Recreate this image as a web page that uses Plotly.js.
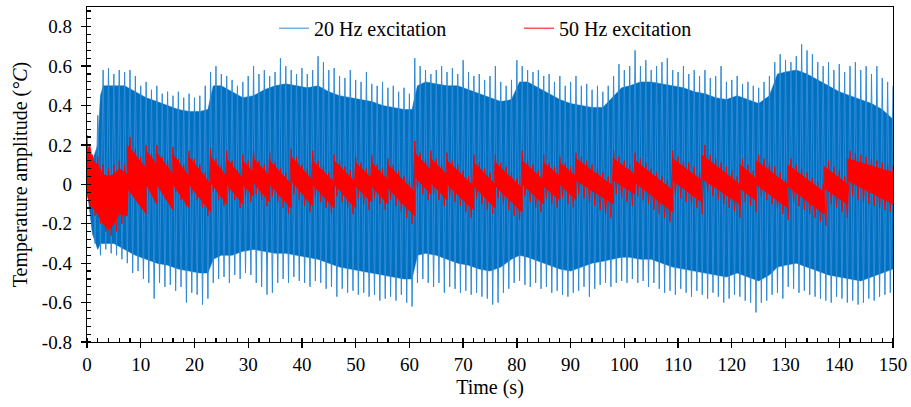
<!DOCTYPE html>
<html>
<head>
<meta charset="utf-8">
<script src="https://cdn.plot.ly/plotly-3.0.1.min.js"></script>
<style>html,body{margin:0;padding:0;background:#fff;}#chart{width:911px;height:407px;}</style>
</head>
<body>
<div id="chart"></div>
<script>
// ---------- DATA ----------
// Series names
const seriesNames = ["20 Hz excitation", "50 Hz excitation"];

// 20 Hz excitation: dense band edges (°C) at vertex times (s)
const blueBandT = [0,1,2,2.5,3,5,7,9,11,13,15,17,19,21,22.5,23.5,25,27,29,31,33,35,37,39,41,43,45,47,49,51,53,55,57,59,60.5,61.5,63,65,67,69,71,73,75,77,79,80.5,82,84,86,88,90,92,94,96,98,99.5,101,103,105,107,109,111,113,115,117,119,121,123,125,127,128.5,130,132,134,136,138,140,142,144,146,148,150];
const blueBandTop = [0.02,0.12,0.2,0.45,0.5,0.5,0.5,0.47,0.44,0.42,0.4,0.38,0.37,0.37,0.38,0.5,0.5,0.47,0.44,0.45,0.48,0.5,0.51,0.5,0.49,0.5,0.47,0.45,0.44,0.43,0.42,0.4,0.39,0.38,0.38,0.5,0.52,0.51,0.5,0.5,0.48,0.46,0.44,0.42,0.43,0.52,0.52,0.49,0.46,0.43,0.41,0.4,0.39,0.39,0.45,0.49,0.5,0.52,0.52,0.51,0.5,0.49,0.47,0.46,0.44,0.43,0.45,0.43,0.41,0.45,0.56,0.57,0.58,0.56,0.53,0.5,0.47,0.45,0.43,0.41,0.38,0.33];
const blueBandBot = [-0.02,-0.25,-0.33,-0.3,-0.3,-0.3,-0.33,-0.36,-0.38,-0.4,-0.41,-0.43,-0.44,-0.45,-0.45,-0.38,-0.36,-0.36,-0.34,-0.33,-0.34,-0.35,-0.35,-0.36,-0.37,-0.38,-0.4,-0.42,-0.43,-0.44,-0.45,-0.46,-0.47,-0.48,-0.48,-0.36,-0.35,-0.36,-0.38,-0.4,-0.41,-0.43,-0.44,-0.42,-0.38,-0.36,-0.37,-0.39,-0.41,-0.43,-0.44,-0.42,-0.4,-0.39,-0.38,-0.37,-0.37,-0.38,-0.38,-0.4,-0.42,-0.43,-0.44,-0.45,-0.46,-0.47,-0.45,-0.47,-0.49,-0.46,-0.42,-0.41,-0.4,-0.42,-0.44,-0.46,-0.47,-0.48,-0.49,-0.47,-0.45,-0.43];

// 20 Hz excitation: spike extremes for each second 0..150 (°C)
const bluePeak = [0.05,0.15,0.35,0.58,0.59,0.56,0.58,0.57,0.58,0.55,0.5,0.52,0.48,0.5,0.46,0.47,0.45,0.47,0.44,0.46,0.44,0.45,0.5,0.57,0.6,0.56,0.55,0.53,0.5,0.52,0.55,0.6,0.56,0.58,0.55,0.57,0.64,0.6,0.58,0.56,0.59,0.56,0.58,0.65,0.62,0.58,0.59,0.55,0.54,0.58,0.53,0.52,0.57,0.51,0.5,0.52,0.49,0.5,0.47,0.49,0.46,0.64,0.6,0.58,0.56,0.58,0.6,0.57,0.59,0.56,0.63,0.57,0.55,0.56,0.53,0.55,0.6,0.52,0.5,0.53,0.63,0.6,0.58,0.57,0.58,0.55,0.56,0.52,0.55,0.5,0.52,0.55,0.5,0.51,0.48,0.5,0.47,0.5,0.55,0.61,0.58,0.6,0.68,0.6,0.63,0.58,0.6,0.62,0.64,0.58,0.57,0.6,0.56,0.58,0.55,0.58,0.54,0.55,0.6,0.52,0.53,0.55,0.51,0.52,0.5,0.49,0.52,0.55,0.62,0.66,0.63,0.62,0.65,0.71,0.68,0.66,0.62,0.6,0.62,0.58,0.61,0.57,0.6,0.62,0.58,0.6,0.56,0.6,0.54,0.52,0.5];
const blueTrough = [-0.05,-0.3,-0.36,-0.33,-0.35,-0.36,-0.38,-0.4,-0.45,-0.44,-0.48,-0.5,-0.58,-0.5,-0.52,-0.51,-0.54,-0.52,-0.6,-0.55,-0.56,-0.61,-0.58,-0.5,-0.48,-0.47,-0.5,-0.46,-0.48,-0.45,-0.46,-0.5,-0.52,-0.56,-0.55,-0.5,-0.48,-0.5,-0.47,-0.49,-0.5,-0.52,-0.49,-0.5,-0.53,-0.52,-0.57,-0.53,-0.55,-0.54,-0.56,-0.55,-0.57,-0.56,-0.59,-0.58,-0.57,-0.59,-0.56,-0.6,-0.62,-0.5,-0.48,-0.5,-0.52,-0.5,-0.55,-0.52,-0.53,-0.55,-0.54,-0.56,-0.55,-0.57,-0.58,-0.61,-0.6,-0.55,-0.53,-0.5,-0.49,-0.51,-0.52,-0.5,-0.53,-0.52,-0.55,-0.54,-0.56,-0.57,-0.55,-0.54,-0.52,-0.57,-0.53,-0.51,-0.5,-0.52,-0.5,-0.49,-0.5,-0.48,-0.5,-0.49,-0.52,-0.5,-0.53,-0.55,-0.54,-0.56,-0.53,-0.55,-0.57,-0.54,-0.56,-0.58,-0.55,-0.57,-0.6,-0.58,-0.56,-0.57,-0.59,-0.6,-0.65,-0.6,-0.59,-0.56,-0.55,-0.58,-0.52,-0.53,-0.55,-0.54,-0.56,-0.57,-0.58,-0.59,-0.6,-0.57,-0.58,-0.6,-0.59,-0.61,-0.6,-0.58,-0.59,-0.57,-0.56,-0.55,-0.52];

// 50 Hz excitation: sawtooth band vertices (time s, top °C, bottom °C)
const redT   = [0,0.5,1,2,3,4,5,6,7.5, 7.5,11, 11,13, 13,16, 16,19, 19,23, 23,26, 26,29, 29,31, 31,34, 34,38, 38,42, 42,46, 46,50, 50,53, 53,56, 56,61, 61,64, 64,67, 67,72, 72,76, 76,81, 81,85, 85,88, 88,91, 91,98, 98,102, 102,109, 109,114.4, 114.4,121.5, 121.5,124.5, 124.5,130.4, 130.4,137.2, 137.2,141.5, 141.5,150];
const redTop = [0.17,0.2,0.12,0.1,0.05,0.04,0.05,0.08,0.05, 0.2,0.08, 0.17,0.1, 0.16,0.05, 0.15,0.04, 0.14,0.0, 0.14,0.04, 0.13,0.03, 0.12,0.06, 0.13,0.04, 0.12,0.0, 0.14,0.02, 0.12,0.01, 0.12,0.01, 0.11,0.03, 0.11,0.02, 0.1,-0.04, 0.16,0.07, 0.13,0.05, 0.12,-0.01, 0.11,0.0, 0.11,-0.02, 0.12,0.02, 0.11,0.04, 0.11,0.04, 0.13,-0.01, 0.13,0.05, 0.12,-0.03, 0.13,0.02, 0.15,0.0, 0.1,0.03, 0.12,0.0, 0.1,-0.04, 0.09,0.0, 0.13,0.06];
const redBot = [-0.05,-0.1,-0.12,-0.15,-0.2,-0.23,-0.2,-0.15,-0.16, -0.02,-0.15, 0.0,-0.1, 0.0,-0.13, 0.0,-0.12, 0.0,-0.14, 0.01,-0.1, 0.0,-0.1, 0.0,-0.06, 0.01,-0.09, 0.0,-0.12, 0.02,-0.11, 0.0,-0.12, 0.0,-0.12, -0.01,-0.09, -0.01,-0.1, -0.02,-0.16, 0.04,-0.05, 0.01,-0.08, 0.0,-0.13, -0.01,-0.12, -0.01,-0.14, 0.0,-0.1, -0.01,-0.08, 0.0,-0.08, 0.02,-0.1, 0.02,-0.05, 0.01,-0.14, 0.02,-0.09, 0.03,-0.1, -0.02,-0.08, 0.0,-0.12, -0.01,-0.15, -0.02,-0.1, 0.02,-0.1];

// 50 Hz excitation: spike extremes for each second 0..150 (°C)
const redPeak = [0.25,0.15,0.14,0.1,0.08,0.1,0.12,0.1,0.24,0.18,0.14,0.2,0.16,0.2,0.14,0.12,0.19,0.13,0.1,0.17,0.13,0.1,0.06,0.18,0.13,0.1,0.17,0.12,0.08,0.15,0.12,0.17,0.12,0.1,0.16,0.11,0.08,0.06,0.18,0.14,0.1,0.08,0.17,0.12,0.09,0.06,0.15,0.12,0.09,0.07,0.14,0.11,0.08,0.15,0.1,0.08,0.13,0.1,0.07,0.04,0.02,0.22,0.16,0.13,0.17,0.13,0.1,0.16,0.12,0.1,0.07,0.04,0.15,0.11,0.08,0.06,0.15,0.11,0.09,0.06,0.03,0.17,0.12,0.1,0.07,0.15,0.11,0.09,0.14,0.11,0.09,0.16,0.14,0.12,0.1,0.08,0.06,0.04,0.17,0.14,0.12,0.1,0.16,0.13,0.11,0.08,0.06,0.04,0.02,0.17,0.14,0.12,0.11,0.09,0.06,0.2,0.15,0.13,0.11,0.09,0.07,0.04,0.13,0.1,0.07,0.15,0.13,0.11,0.09,0.06,0.03,0.13,0.1,0.08,0.06,0.03,0.01,0.0,0.12,0.09,0.07,0.04,0.17,0.16,0.15,0.14,0.13,0.12,0.11,0.1,0.09];
const redTrough = [-0.12,-0.16,-0.2,-0.24,-0.26,-0.24,-0.2,-0.14,-0.02,-0.06,-0.1,-0.02,-0.05,-0.03,-0.07,-0.1,-0.04,-0.08,-0.11,-0.05,-0.08,-0.12,-0.16,-0.04,-0.08,-0.11,-0.05,-0.08,-0.12,-0.06,-0.09,-0.05,-0.08,-0.11,-0.06,-0.09,-0.12,-0.15,-0.05,-0.08,-0.11,-0.14,-0.06,-0.09,-0.12,-0.15,-0.06,-0.09,-0.12,-0.15,-0.07,-0.1,-0.13,-0.07,-0.1,-0.13,-0.08,-0.11,-0.14,-0.17,-0.2,-0.02,-0.05,-0.08,-0.05,-0.08,-0.11,-0.06,-0.09,-0.11,-0.14,-0.17,-0.07,-0.1,-0.13,-0.15,-0.07,-0.1,-0.13,-0.16,-0.18,-0.06,-0.09,-0.12,-0.14,-0.07,-0.1,-0.12,-0.07,-0.1,-0.12,-0.05,-0.07,-0.09,-0.11,-0.13,-0.15,-0.17,-0.05,-0.07,-0.09,-0.11,-0.06,-0.08,-0.1,-0.13,-0.15,-0.17,-0.19,-0.05,-0.07,-0.09,-0.1,-0.12,-0.15,-0.04,-0.06,-0.08,-0.1,-0.12,-0.14,-0.17,-0.09,-0.11,-0.14,-0.06,-0.08,-0.1,-0.12,-0.15,-0.18,-0.09,-0.11,-0.13,-0.15,-0.17,-0.19,-0.21,-0.1,-0.12,-0.14,-0.17,-0.06,-0.08,-0.09,-0.1,-0.11,-0.12,-0.13,-0.14,-0.14];

// Axis ticks
const xTickStep = 10;
const yTickVals = [-0.8,-0.6,-0.4,-0.2,0,0.2,0.4,0.6,0.8];
const yTickText = ["-0.8","-0.6","-0.4","-0.2","0","0.2","0.4","0.6","0.8"];

// ---------- BUILD TRACES ----------
const BLUE = "#0070C0", BLUE_SPIKE = "#2F8AD6", RED = "#FF0000";

function polygon(xs, top, bot) {
  const x = xs.slice().concat(xs.slice().reverse());
  const y = top.slice().concat(bot.slice().reverse());
  return {x, y};
}
// zigzag from per-second extremes: peak at t, trough half a second later
function zigzag(peaks, troughs) {
  const x = [], y = [];
  for (let i = 0; i < peaks.length; i++) {
    x.push(i); y.push(peaks[i]);
    if (i < troughs.length && i + 0.5 <= 150) { x.push(i + 0.5); y.push(troughs[i]); }
  }
  return {x, y};
}
const bz = zigzag(bluePeak, blueTrough);
const rz = zigzag(redPeak, redTrough);
const bp = polygon(blueBandT, blueBandTop, blueBandBot);
const rp = polygon(redT, redTop, redBot);

const traces = [
  {x: bp.x, y: bp.y, type: "scatter", mode: "lines", fill: "toself", fillcolor: BLUE,
   line: {width: 0.5, color: BLUE}, showlegend: false, hoverinfo: "skip"},
  {x: bz.x, y: bz.y, type: "scatter", mode: "lines", name: seriesNames[0],
   line: {width: 1, color: BLUE_SPIKE}, showlegend: true, hoverinfo: "skip"},
  {x: rp.x, y: rp.y, type: "scatter", mode: "lines", fill: "toself", fillcolor: RED,
   line: {width: 0.8, color: RED}, showlegend: false, hoverinfo: "skip"},
  {x: rz.x, y: rz.y, type: "scatter", mode: "lines", name: seriesNames[1],
   line: {width: 1, color: RED}, showlegend: true, hoverinfo: "skip"},
  {x: [null], y: [null], xaxis: "x2", yaxis: "y2", type: "scatter", mode: "lines",
   showlegend: false, hoverinfo: "skip"}
];

const FONT = "'Liberation Serif', 'Times New Roman', serif";
const TICK_SIZE = 19, TITLE_SIZE = 20;
const axisCommon = {
  showgrid: false, zeroline: false, showline: true, linecolor: "#000", linewidth: 1.3,
  mirror: true, ticks: "outside", ticklen: 5, tickwidth: 1.3, tickcolor: "#000",
  tickfont: {family: FONT, size: TICK_SIZE, color: "#000"}
};

const layout = {
  width: 911, height: 407,
  margin: {l: 87, r: 18, t: 7, b: 65},
  paper_bgcolor: "#fff", plot_bgcolor: "#fff",
  font: {family: FONT, size: TICK_SIZE, color: "#000"},
  showlegend: true,
  legend: {orientation: "h", x: 0.232, y: 0.995, xanchor: "left", yanchor: "top",
           bgcolor: "rgba(0,0,0,0)", font: {family: FONT, size: TITLE_SIZE, color: "#000"},
           entrywidth: 200, entrywidthmode: "pixels"},
  xaxis: Object.assign({}, axisCommon, {
    range: [0, 150], dtick: xTickStep, tick0: 0,
    minor: {dtick: 2, ticks: "inside", ticklen: 4, tickwidth: 1.2, tickcolor: "#000"},
    title: {text: "Time (s)", font: {family: FONT, size: TITLE_SIZE, color: "#000"}, standoff: 6}
  }),
  yaxis: Object.assign({}, axisCommon, {
    range: [-0.8, 0.9], tickmode: "array", tickvals: yTickVals, ticktext: yTickText,
    ticklabelstandoff: 5,
    minor: {dtick: 0.04, tick0: 0, ticks: "inside", ticklen: 4, tickwidth: 1.2, tickcolor: "#000"},
    title: {text: "Temperature amplitude (<i>°C</i>)", font: {family: FONT, size: TITLE_SIZE, color: "#000"}, standoff: 8}
  }),
  xaxis2: {overlaying: "x", anchor: "y2", range: [0, 150], dtick: xTickStep, tick0: 0,
           ticks: "inside", ticklen: 4, tickwidth: 1.3, tickcolor: "#000",
           showticklabels: false, showgrid: false, zeroline: false, showline: false, side: "bottom"},
  yaxis2: {overlaying: "y", anchor: "x2", range: [-0.8, 0.9], tickmode: "array", tickvals: yTickVals,
           ticks: "inside", ticklen: 4, tickwidth: 1.3, tickcolor: "#000",
           showticklabels: false, showgrid: false, zeroline: false, showline: false, side: "left"}
};

Plotly.newPlot("chart", traces, layout, {displayModeBar: false, staticPlot: true});
</script>
</body>
</html>
